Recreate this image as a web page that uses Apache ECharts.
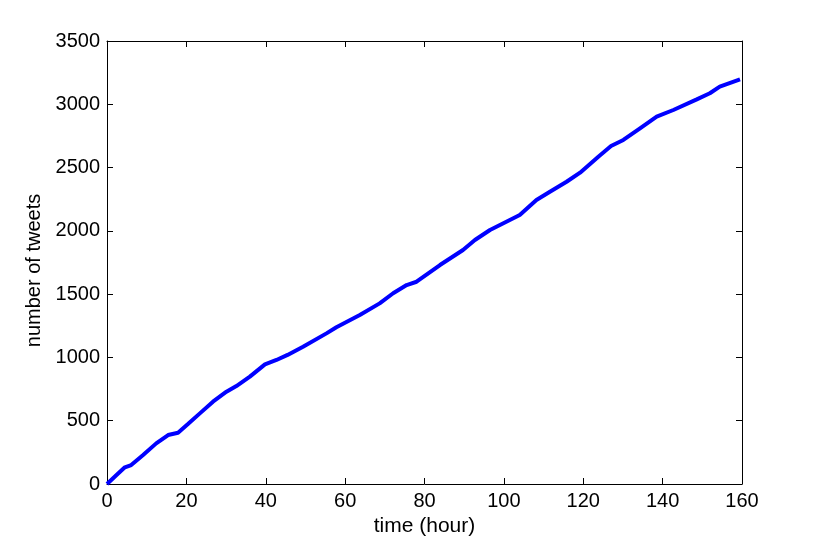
<!DOCTYPE html>
<html>
<head>
<meta charset="utf-8">
<script src="https://cdn.jsdelivr.net/npm/echarts@6/dist/echarts.min.js"></script>
<style>
  html, body { margin: 0; padding: 0; background: #fff; }
  #chart { width: 822px; height: 544px; }
</style>
</head>
<body>
<div id="chart"></div>
<script>
// time (hour) and cumulative number of tweets
var hours = [0, 2.4, 4.5, 6.1, 9.1, 12.4, 15.4, 17.9, 20.4, 23.4, 26.7, 30.1, 32.6, 36, 39.8, 42.7,
  45.5, 49.4, 55.3, 57.8, 63.7, 68.7, 72.1, 75.5, 78, 83.9, 89.7, 92.7, 96.5, 101.5, 104,
  108.2, 111.6, 115.8, 119.2, 123.8, 127, 130.1, 134.3, 138.5, 142.7, 148.6, 151.9, 154.4, 159.5];
var tweets = [0, 71, 132, 150, 229, 321, 387, 405, 474, 558, 650, 729, 774, 848, 945, 980,
  1020, 1085, 1190, 1238, 1335, 1427, 1507, 1572, 1598, 1730, 1849, 1928, 2007, 2086, 2125,
  2244, 2309, 2388, 2460, 2586, 2670, 2718, 2810, 2902, 2955, 3039, 3087, 3139, 3197];

var xTicks = { min: 0, max: 160, interval: 20 };
var yTicks = { min: 0, max: 3500, interval: 500 };

var points = hours.map(function (h, i) { return [h, tweets[i]]; });

var font = 'Liberation Sans, Arial, sans-serif';
var chart = echarts.init(document.getElementById('chart'));

function boxAxis(extra) {
  return Object.assign({
    type: 'value',
    axisLine: { show: true, onZero: false, lineStyle: { color: '#000', width: 1 } },
    axisTick: { show: true, inside: true, length: 6, lineStyle: { color: '#000' } },
    splitLine: { show: false },
    axisLabel: { show: false }
  }, extra);
}

function plain(v) { return String(v); }

chart.setOption({
  animation: false,
  backgroundColor: '#fff',
  grid: { left: 107, right: 80, top: 41, bottom: 60 },
  xAxis: [
    boxAxis({
      position: 'bottom', min: xTicks.min, max: xTicks.max, interval: xTicks.interval,
      name: 'time (hour)', nameLocation: 'middle', nameGap: 29,
      nameTextStyle: { color: '#000', fontSize: 21, fontFamily: font },
      axisLabel: { show: true, color: '#000', fontSize: 20, fontFamily: font, margin: 7, formatter: plain }
    }),
    boxAxis({ position: 'top', min: xTicks.min, max: xTicks.max, interval: xTicks.interval })
  ],
  yAxis: [
    boxAxis({
      position: 'left', min: yTicks.min, max: yTicks.max, interval: yTicks.interval,
      name: 'number of tweets', nameLocation: 'middle', nameGap: 51,
      nameTextStyle: { color: '#000', fontSize: 20, fontFamily: font, padding: [0, 16, 0, 0] },
      axisLabel: { show: true, color: '#000', fontSize: 20, fontFamily: font, margin: 7, formatter: plain }
    }),
    boxAxis({ position: 'right', min: yTicks.min, max: yTicks.max, interval: yTicks.interval })
  ],
  series: [{
    type: 'line',
    data: points,
    showSymbol: false,
    smooth: false,
    lineStyle: { color: '#0000ff', width: 4 }
  }]
});
</script>
</body>
</html>
